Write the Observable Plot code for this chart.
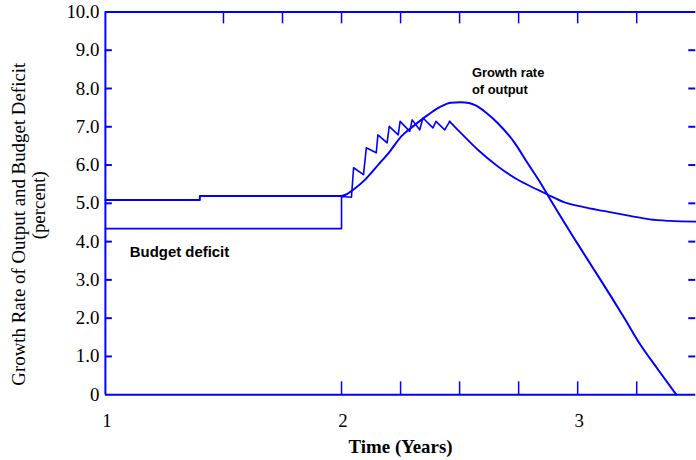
<!DOCTYPE html>
<html>
<head>
<meta charset="utf-8">
<script src="https://cdn.jsdelivr.net/npm/d3@7"></script>
<script src="https://cdn.jsdelivr.net/npm/@observablehq/plot@0.6"></script>
<style>
  html, body { margin: 0; padding: 0; background: #fff; overflow: hidden; }
  #chart { height: 460px; overflow: hidden; }
  #chart svg { display: block; }
</style>
</head>
<body>
<div id="chart"></div>
<script>
// ---- data ----
const yTicks = [0, 1, 2, 3, 4, 5, 6, 7, 8, 9, 10];
const xLabelTicks = [1, 2, 3];
const bottomMinorTicks = [2, 2.25, 2.5, 2.75, 3, 3.25];
const topMinorTicks = [1.5, 1.75, 2, 2.25, 2.5, 2.75, 3, 3.25];

// Growth rate of output: flat part before t = 2
const outputFlatT = [1, 1.4, 1.4, 2.0];
const outputFlatV = [5.09, 5.09, 5.19, 5.19];
// Growth rate of output: smooth part from t = 2
const outputT = [2.0, 2.025, 2.051, 2.100, 2.156, 2.205, 2.253, 2.303, 2.366, 2.421, 2.463, 2.503, 2.540, 2.570, 2.610, 2.661, 2.733, 2.787, 2.842, 2.884, 2.942, 3.0, 3.068, 3.145, 3.2, 3.263, 3.34, 3.418];
const outputV = [5.19, 5.25, 5.36, 5.62, 6.01, 6.36, 6.75, 7.01, 7.31, 7.53, 7.63, 7.64, 7.62, 7.55, 7.38, 7.10, 6.58, 6.06, 5.54, 5.10, 4.51, 3.94, 3.28, 2.53, 1.98, 1.33, 0.66, 0];

// Budget deficit: flat part, step and saw-tooth rise
const deficitRiseT = [1, 2.0, 2.0, 2.042, 2.051, 2.093, 2.105, 2.147, 2.154, 2.193, 2.202, 2.240, 2.248, 2.289, 2.299, 2.331, 2.345, 2.387, 2.400, 2.437, 2.458];
const deficitRiseV = [4.34, 4.34, 5.18, 5.16, 5.93, 5.75, 6.45, 6.32, 6.79, 6.58, 7.01, 6.79, 7.14, 6.88, 7.18, 6.92, 7.23, 6.97, 7.14, 6.92, 7.14];
// Budget deficit: decline after the last tooth
const deficitFallT = [2.458, 2.505, 2.577, 2.661, 2.745, 2.829, 2.872, 2.942, 3.026, 3.110, 3.221, 3.305, 3.389, 3.5];
const deficitFallV = [7.14, 6.84, 6.40, 5.97, 5.62, 5.36, 5.23, 5.03, 4.90, 4.80, 4.67, 4.58, 4.54, 4.52];

const zip = (ts, vs) => ts.map((t, i) => ({t, v: vs[i]}));
const outputFlat = zip(outputFlatT, outputFlatV);
const output = zip(outputT, outputV);
const deficitRise = zip(deficitRiseT, deficitRiseV);
const deficitFall = zip(deficitFallT, deficitFallV);

// ---- layout ----
const W = 700, H = 460;
const ml = 105.5, mr = 0.75, mt = 11.5, mb = 63.5;
const pw = W - ml - mr, ph = H - mt - mb;
const blue = "#0000ff";
const serif = "'Liberation Serif', 'Times New Roman', Times, serif";
const sans = "'Liberation Sans', Arial, Helvetica, sans-serif";
const inner = yTicks.filter(d => d > 0 && d < 10);

const chart = Plot.plot({
  width: W,
  height: H,
  marginLeft: ml,
  marginRight: mr,
  marginTop: mt,
  marginBottom: mb,
  x: {domain: [1, 3.5]},
  y: {domain: [0, 10]},
  style: {fontFamily: serif, fontSize: "19px", background: "white", color: "black", overflow: "visible"},
  marks: [
    // frame lines
    Plot.ruleY([0, 10], {stroke: blue, strokeWidth: 2}),
    Plot.ruleX([1], {stroke: blue, strokeWidth: 2}),
    // inward ticks
    Plot.tickY(inner, {y: d => d, stroke: blue, strokeWidth: 2, insetRight: pw - 7}),
    Plot.tickY(inner, {y: d => d, stroke: blue, strokeWidth: 2, insetLeft: pw - 7}),
    Plot.tickX(bottomMinorTicks, {x: d => d, stroke: blue, strokeWidth: 1.5, insetTop: ph - 13}),
    Plot.tickX(topMinorTicks, {x: d => d, stroke: blue, strokeWidth: 1.5, insetBottom: ph - 12}),
    // tick labels
    Plot.axisY({ticks: yTicks, tickSize: 0, tickPadding: 6, label: null,
      tickFormat: d => d === 0 ? "0" : d.toFixed(1), fill: "black", fontSize: 19}),
    Plot.axisX({ticks: xLabelTicks, tickSize: 0, tickPadding: 19, label: null,
      tickFormat: d => String(d), fill: "black", fontSize: 19, dx: 1.5}),
    // axis titles
    Plot.text(["Time (Years)"], {frameAnchor: "bottom", dy: 53, lineAnchor: "middle",
      fontWeight: "bold", fontFamily: serif, fontSize: 19, fill: "black"}),
    Plot.text(["Growth Rate of Output and Budget Deficit"], {frameAnchor: "left", dx: -80.5, dy: 21,
      rotate: -90, lineAnchor: "bottom", textAnchor: "middle", fontFamily: serif, fontSize: 19, fill: "black"}),
    Plot.text(["(percent)"], {frameAnchor: "left", dx: -60.5, dy: 2,
      rotate: -90, lineAnchor: "bottom", textAnchor: "middle", fontFamily: serif, fontSize: 19, fill: "black"}),
    // series
    Plot.line(outputFlat, {x: "t", y: "v", stroke: blue, strokeWidth: 2}),
    Plot.line(output, {x: "t", y: "v", stroke: blue, strokeWidth: 2, curve: "monotone-x"}),
    Plot.line(deficitRise, {x: "t", y: "v", stroke: blue, strokeWidth: 1.6}),
    Plot.line(deficitFall, {x: "t", y: "v", stroke: blue, strokeWidth: 1.8, curve: "monotone-x"}),
    // annotations
    Plot.text(["Budget deficit"], {x: 1.1035, y: 3.72, textAnchor: "start", lineAnchor: "middle",
      fontFamily: sans, fontWeight: "bold", fontSize: 15, fill: "black"}),
    Plot.text(["Growth rate\nof output"], {x: 2.552, y: 8.22, textAnchor: "start", lineAnchor: "middle",
      lineHeight: 1.3, fontFamily: sans, fontWeight: "bold", fontSize: 13, fill: "black"})
  ]
});
document.getElementById("chart").appendChild(chart);
</script>
</body>
</html>
